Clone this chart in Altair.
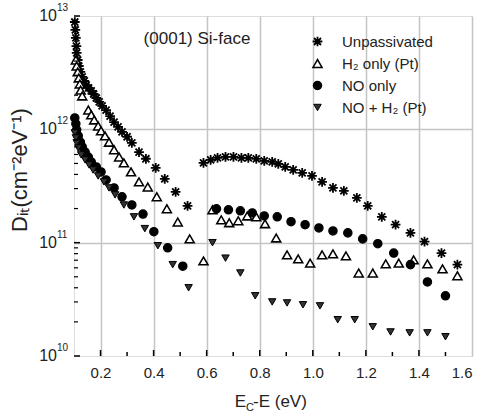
import altair as alt
import pandas as pd

# ---- measured interface-state densities, D_it (cm^-2 eV^-1) vs Ec-E (eV) ----
SERIES = ["Unpassivated", "H₂ only (Pt)", "NO only", "NO + H₂ (Pt)"]

unpass_x = [0.103, 0.105, 0.107, 0.109, 0.110, 0.114, 0.118, 0.124, 0.131, 0.139,
            0.146, 0.155, 0.165, 0.174, 0.184, 0.195, 0.206, 0.221, 0.236, 0.251,
            0.266, 0.281, 0.300, 0.318, 0.345, 0.371, 0.408, 0.442, 0.483, 0.528,
            0.588, 0.615, 0.641, 0.671, 0.701, 0.731, 0.757, 0.787, 0.817, 0.847,
            0.870, 0.896, 0.926, 0.960, 0.997, 1.035, 1.076, 1.117, 1.166, 1.207,
            1.260, 1.312, 1.368, 1.421, 1.485, 1.545]
unpass_d = [8.85e12, 7.53e12, 6.40e12, 5.43e12, 4.72e12, 4.09e12, 3.62e12, 3.21e12, 2.90e12, 2.67e12,
            2.46e12, 2.32e12, 2.18e12, 2.05e12, 1.89e12, 1.75e12, 1.61e12, 1.48e12, 1.31e12, 1.16e12,
            1.05e12, 9.5e11, 8.6e11, 7.6e11, 6.3e11, 5.5e11, 4.57e11, 3.66e11, 2.81e11, 2.11e11,
            5.06e11, 5.37e11, 5.6e11, 5.71e11, 5.71e11, 5.6e11, 5.6e11, 5.48e11, 5.26e11, 5.16e11,
            4.95e11, 4.66e11, 4.38e11, 4.13e11, 3.88e11, 3.44e11, 3.04e11, 2.86e11, 2.48e11, 2.11e11,
            1.69e11, 1.44e11, 1.22e11, 1.02e11, 8.1e10, 6.4e10]

h2_x = [0.107, 0.110, 0.114, 0.118, 0.122, 0.125, 0.131, 0.154, 0.165, 0.176,
        0.191, 0.202, 0.217, 0.232, 0.251, 0.270, 0.288, 0.315, 0.345, 0.378,
        0.412, 0.450, 0.491, 0.536, 0.588,
        0.622, 0.655, 0.685, 0.719, 0.753, 0.787, 0.820, 0.862, 0.903, 0.945,
        0.990, 1.035, 1.076, 1.125, 1.173, 1.226, 1.275, 1.324, 1.380, 1.432,
        1.489, 1.545]
h2_d = [4.09e12, 3.62e12, 3.21e12, 2.84e12, 2.51e12, 2.22e12, 1.97e12, 1.48e12, 1.34e12, 1.21e12,
        1.07e12, 9.7e11, 8.75e11, 7.7e11, 6.6e11, 5.7e11, 5.06e11, 4.21e11, 3.44e11, 3.1e11,
        2.54e11, 1.99e11, 1.52e11, 1.08e11, 6.9e10,
        1.95e11, 1.59e11, 1.50e11, 1.56e11, 1.72e11, 1.69e11, 1.47e11, 1.10e11, 7.8e10, 7.2e10,
        6.6e10, 7.8e10, 7.96e10, 7.65e10, 5.4e10, 5.4e10, 6.5e10, 6.6e10, 7.05e10, 6.5e10,
        5.87e10, 5.1e10]

no_x = [0.103, 0.107, 0.110, 0.116, 0.124, 0.131, 0.142, 0.154, 0.165, 0.184,
        0.202, 0.221, 0.251, 0.281, 0.318, 0.360, 0.401, 0.453, 0.510,
        0.637, 0.682, 0.727, 0.772, 0.817, 0.866, 0.918, 0.971, 1.023, 1.076,
        1.132, 1.188, 1.245, 1.305, 1.368, 1.432, 1.500]
no_d = [1.26e12, 1.12e12, 9.9e11, 8.75e11, 7.7e11, 7.0e11, 6.3e11, 5.7e11, 5.16e11, 4.66e11,
        4.21e11, 3.58e11, 3.04e11, 2.54e11, 2.15e11, 1.79e11, 1.25e11, 9.0e10, 6.2e10,
        1.99e11, 1.95e11, 1.91e11, 1.83e11, 1.72e11, 1.69e11, 1.53e11, 1.44e11, 1.35e11, 1.27e11,
        1.22e11, 1.08e11, 9.8e10, 8.1e10, 6.4e10, 4.5e10, 3.4e10]

noh2_x = [0.103, 0.107, 0.110, 0.116, 0.127, 0.142, 0.157, 0.172, 0.191, 0.213,
          0.232, 0.255, 0.288, 0.326, 0.367, 0.416, 0.472, 0.532,
          0.622, 0.671, 0.727, 0.783, 0.847, 0.903, 0.963, 1.027, 1.094, 1.158,
          1.226, 1.293, 1.365, 1.432, 1.500]
noh2_d = [9.3e11, 8.4e11, 7.6e11, 6.85e11, 5.95e11, 5.37e11, 4.85e11, 4.38e11, 3.88e11, 3.44e11,
          3.04e11, 2.64e11, 2.15e11, 1.69e11, 1.33e11, 9.4e10, 6.4e10, 4.0e10,
          1.0e11, 7.3e10, 5.4e10, 3.4e10, 3.0e10, 2.94e10, 2.83e10, 2.77e10, 2.09e10, 2.09e10,
          1.81e10, 1.63e10, 1.6e10, 1.6e10, 1.48e10]

# axis tick positions
x_major = [0.2, 0.4, 0.6, 0.8, 1.0, 1.2, 1.4, 1.6]
x_minor = [0.1, 0.3, 0.5, 0.7, 0.9, 1.1, 1.3, 1.5]
y_decades = [1e10, 1e11, 1e12, 1e13]
y_exponents = ["10", "11", "12", "13"]
y_minor = [k * 10.0 ** n for n in (10, 11, 12) for k in range(2, 10)]

FONT = "Liberation Sans"
TXT = "#222222"

rows = []
for name, xs, ds in zip(SERIES, [unpass_x, h2_x, no_x, noh2_x], [unpass_d, h2_d, no_d, noh2_d]):
    rows += [{"series": name, "E": x, "Dit": d} for x, d in zip(xs, ds)]
df = pd.DataFrame(rows)

ASTERISK = "M-1,0L1,0M0,-1L0,1M-0.72,-0.72L0.72,0.72M-0.72,0.72L0.72,-0.72"

x_scale = alt.Scale(domain=[0.1, 1.6], nice=False, zero=False)
y_scale = alt.Scale(type="log", domain=[1e10, 1e13], nice=False)

# one shared legend, placed inside the frame at the upper right
legend = alt.Legend(title=None, orient="none", legendX=236, legendY=18,
                    labelFontSize=15, labelFont=FONT, labelColor=TXT,
                    rowPadding=6, labelOffset=17, symbolOpacity=1)

points = alt.Chart(df).mark_point(opacity=1).encode(
    x=alt.X("E:Q", scale=x_scale,
            axis=alt.Axis(values=x_major, format=".1f", grid=True, ticks=False, domain=False,
                          labelFontSize=15, labelPadding=9, labelColor=TXT, labelFont=FONT,
                          gridColor="#c4c4c4", gridWidth=1.5, title=None)),
    y=alt.Y("Dit:Q", scale=y_scale,
            axis=alt.Axis(values=[1e11, 1e12], grid=True, labels=False, ticks=False, domain=False,
                          gridColor="#c4c4c4", gridWidth=1.5, title=None)),
    shape=alt.Shape("series:N", scale=alt.Scale(domain=SERIES, range=[ASTERISK, "triangle-up", "circle", "triangle-down"]), legend=legend),
    fill=alt.Fill("series:N", scale=alt.Scale(domain=SERIES, range=["transparent", "white", "black", "#333333"]), legend=legend),
    stroke=alt.Stroke("series:N", scale=alt.Scale(domain=SERIES, range=["black", "black", "black", "black"]), legend=legend),
    size=alt.Size("series:N", scale=alt.Scale(domain=SERIES, range=[95, 55, 45, 55]), legend=legend),
    strokeWidth=alt.StrokeWidth("series:N", scale=alt.Scale(domain=SERIES, range=[1.8, 1.0, 1.0, 1.3]), legend=legend),
)

# inward ticks on the bottom axis
xt_major = alt.Chart(pd.DataFrame({"E": x_major[:-1]})).mark_rule(color="black", strokeWidth=1.5).encode(
    x=alt.X("E:Q", scale=x_scale), y=alt.value(340), y2=alt.value(334))
xt_minor = alt.Chart(pd.DataFrame({"E": x_minor[1:]})).mark_rule(color="black", strokeWidth=1.5).encode(
    x=alt.X("E:Q", scale=x_scale), y=alt.value(340), y2=alt.value(336))

# inward ticks on the left (log) axis
yt_major = alt.Chart(pd.DataFrame({"Dit": y_decades})).mark_rule(color="black", strokeWidth=1.5).encode(
    y=alt.Y("Dit:Q", scale=y_scale), x=alt.value(0), x2=alt.value(6))
yt_minor = alt.Chart(pd.DataFrame({"Dit": y_minor})).mark_rule(color="black", strokeWidth=1.2).encode(
    y=alt.Y("Dit:Q", scale=y_scale), x=alt.value(0), x2=alt.value(4))

# decade labels written as 10 with a raised exponent
ylab_df = pd.DataFrame({"Dit": y_decades, "exp": y_exponents, "base": ["10"] * 4})
ylab_base = alt.Chart(ylab_df).mark_text(align="right", baseline="middle", fontSize=16, font=FONT, color=TXT).encode(
    y=alt.Y("Dit:Q", scale=y_scale), x=alt.value(-17), text="base:N")
ylab_exp = alt.Chart(ylab_df).mark_text(align="left", baseline="middle", fontSize=10, font=FONT, color=TXT, dy=-8).encode(
    y=alt.Y("Dit:Q", scale=y_scale), x=alt.value(-17), text="exp:N")

one = alt.Data(values=[{}])

def label(text, x, y, size, align="left", angle=0, baseline="middle"):
    return alt.Chart(one).mark_text(text=text, align=align, baseline=baseline, fontSize=size,
                                    font=FONT, color=TXT, angle=angle).encode(
        x=alt.value(x), y=alt.value(y))

x_title = [
    label("E", 172, 386, 17, align="right"),
    label("C", 172, 392, 11),
    label("-E (eV)", 179, 386, 17),
]
y_title = label("Dᵢₜ(cm⁻²eV⁻¹)", -54, 154, 22, align="center", angle=270)
face = label("(0001) Si-face", 123, 23, 17, align="center")

chart = alt.layer(
    points, xt_major, xt_minor, yt_major, yt_minor, ylab_base, ylab_exp, *x_title, y_title, face
).properties(
    width=398, height=340,
    autosize=alt.AutoSizeParams(type="none"),
    padding={"left": 74, "top": 16, "right": 10, "bottom": 60},
).configure_view(
    stroke="black", strokeWidth=2
).configure(background="white")

chart.save("out.html", embed_options={"renderer": "svg", "actions": False})
